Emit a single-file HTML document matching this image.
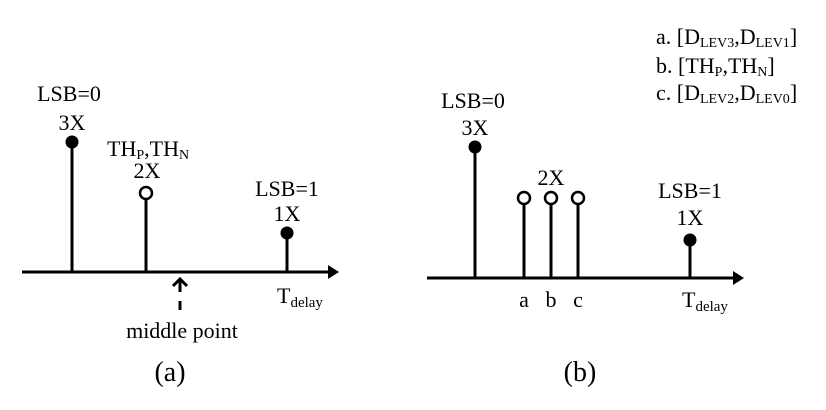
<!DOCTYPE html>
<html><head><style>
html,body{margin:0;padding:0;background:#fff;}
svg{display:block;}
text{font-family:"Liberation Serif",serif;fill:#000;}
</style></head><body>
<svg width="826" height="410" viewBox="0 0 826 410" xmlns="http://www.w3.org/2000/svg">
<g stroke="#000" stroke-width="3" fill="none">
<!-- (a) -->
<line x1="22" y1="272" x2="330" y2="272"/>
<line x1="72" y1="272" x2="72" y2="142"/>
<line x1="146" y1="272" x2="146" y2="199"/>
<line x1="287" y1="272" x2="287" y2="233"/>
<circle cx="146" cy="193" r="6" stroke-width="2.5" fill="#fff"/>
<polyline points="173,286 180,279 187,286"/>
<line x1="180" y1="280" x2="180" y2="292"/>
<line x1="180" y1="301" x2="180" y2="310"/>
<!-- (b) -->
<line x1="427" y1="278" x2="735" y2="278"/>
<line x1="475" y1="278" x2="475" y2="147"/>
<line x1="524" y1="278" x2="524" y2="204"/>
<line x1="551" y1="278" x2="551" y2="204"/>
<line x1="578" y1="278" x2="578" y2="204"/>
<line x1="690" y1="278" x2="690" y2="240"/>
<circle cx="524" cy="198" r="6" stroke-width="2.5" fill="#fff"/>
<circle cx="551" cy="198" r="6" stroke-width="2.5" fill="#fff"/>
<circle cx="578" cy="198" r="6" stroke-width="2.5" fill="#fff"/>
</g>
<g fill="#000">
<polygon points="328,265 339,272 328,279"/>
<polygon points="733,271 744,278 733,285"/>
<circle cx="72" cy="142" r="6.5"/>
<circle cx="287" cy="233" r="6.5"/>
<circle cx="475" cy="147" r="6.5"/>
<circle cx="690" cy="240" r="6.5"/>
</g>
<g font-size="22">
<text x="69" y="101" text-anchor="middle">LSB=0</text>
<text x="72" y="130" text-anchor="middle">3X</text>
<text x="107" y="156">TH<tspan font-size="14" dy="3">P</tspan><tspan dy="-3">,TH</tspan><tspan font-size="14" dy="3">N</tspan></text>
<text x="147" y="178" text-anchor="middle">2X</text>
<text x="287" y="196" text-anchor="middle">LSB=1</text>
<text x="287" y="221" text-anchor="middle">1X</text>
<text x="277" y="303">T<tspan font-size="15" dy="4">delay</tspan></text>
<text x="182" y="338" text-anchor="middle">middle point</text>

<text x="473" y="108" text-anchor="middle">LSB=0</text>
<text x="475" y="135" text-anchor="middle">3X</text>
<text x="551" y="185" text-anchor="middle">2X</text>
<text x="690" y="198" text-anchor="middle">LSB=1</text>
<text x="690" y="225" text-anchor="middle">1X</text>
<text x="524" y="307" text-anchor="middle">a</text>
<text x="551" y="307" text-anchor="middle">b</text>
<text x="578" y="307" text-anchor="middle">c</text>
<text x="682" y="307">T<tspan font-size="15" dy="4">delay</tspan></text>

<text x="656" y="44">a. [D<tspan font-size="14" dy="3">LEV3</tspan><tspan dy="-3">,D</tspan><tspan font-size="14" dy="3">LEV1</tspan><tspan dy="-3">]</tspan></text>
<text x="656" y="73">b. [TH<tspan font-size="14" dy="3">P</tspan><tspan dy="-3">,TH</tspan><tspan font-size="14" dy="3">N</tspan><tspan dy="-3">]</tspan></text>
<text x="656" y="100">c. [D<tspan font-size="14" dy="3">LEV2</tspan><tspan dy="-3">,D</tspan><tspan font-size="14" dy="3">LEV0</tspan><tspan dy="-3">]</tspan></text>
</g>
<text x="170" y="381" font-size="28" text-anchor="middle">(a)</text>
<text x="580" y="381" font-size="28" text-anchor="middle">(b)</text>
</svg>
</body></html>
